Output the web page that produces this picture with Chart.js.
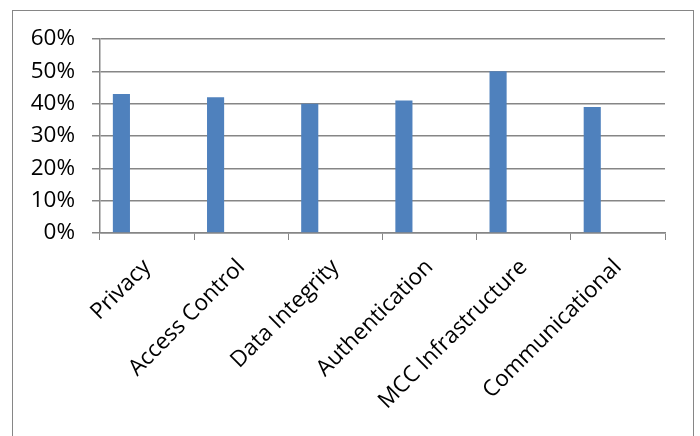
<!DOCTYPE html>
<html>
<head>
<meta charset="utf-8">
<script src="https://cdn.jsdelivr.net/npm/chart.js@4"></script>
<style>
    html, body { margin: 0; padding: 0; background: #fff; overflow: hidden; }
    #wrap { position: relative; width: 700px; height: 436px; }
    #frame {
        position: absolute; left: 12px; top: 10px;
        width: 682px; height: 460px;
        border: 1px solid #868686;
        box-sizing: border-box;
    }
    canvas { position: absolute; left: 0; top: 0; }
</style>
</head>
<body>
<div id="wrap">
    <div id="frame"></div>
    <canvas id="chart" width="700" height="436"></canvas>
</div>
<script>
// カテゴリと値 (%)
const categories = ['Privacy', 'Access Control', 'Data Integrity', 'Authentication', 'MCC Infrastructure', 'Communicational'];
const values = [43, 42, 40, 41, 50, 39];
// 元のExcelグラフには空の系列が3つある (棒の位置がずれている)
const emptySeries = [null, null, null, null, null, null];
const yTicks = [0, 10, 20, 30, 40, 50, 60];

const gray = '#868686';
const font = { family: '"Open Sans", "Liberation Sans", sans-serif', size: 22.5 };

// データセットを作成
const datasets = [
    { label: 'Series1', data: values, backgroundColor: '#4F81BD' },
    { label: 'Series2', data: emptySeries, backgroundColor: '#C0504D' },
    { label: 'Series3', data: emptySeries, backgroundColor: '#9BBB59' },
    { label: 'Series4', data: emptySeries, backgroundColor: '#8064A2' }
];

const ctx = document.getElementById('chart').getContext('2d');
new Chart(ctx, {
    type: 'bar',
    data: { labels: categories, datasets: datasets },
    options: {
        responsive: false,
        animation: false,
        devicePixelRatio: 1,
        layout: { padding: { left: 0, top: 39, right: 35, bottom: 0 } },
        datasets: {
            bar: { categoryPercentage: 0.727, barPercentage: 1.0, skipNull: false }
        },
        plugins: {
            legend: { display: false },
            tooltip: { enabled: false }
        },
        scales: {
            x: {
                grid: {
                    offset: true,
                    drawOnChartArea: false,
                    drawTicks: true,
                    tickLength: 7,
                    color: gray
                },
                border: { display: true, color: gray, width: 1.5 },
                ticks: {
                    color: '#000',
                    font: font,
                    minRotation: 45,
                    maxRotation: 45,
                    padding: 14,
                    autoSkip: false
                },
                afterFit: scale => { scale.height = 203; }
            },
            y: {
                min: 0,
                max: 60,
                afterBuildTicks: scale => { scale.ticks = yTicks.map(v => ({ value: v })); },
                grid: {
                    color: gray,
                    lineWidth: 1.5,
                    drawTicks: true,
                    tickLength: 8
                },
                border: { display: true, color: gray, width: 1.5 },
                ticks: {
                    color: '#000',
                    font: font,
                    padding: 17,
                    callback: v => v + '%'
                },
                afterFit: scale => { scale.width = 100; }
            }
        }
    }
});
</script>
</body>
</html>
